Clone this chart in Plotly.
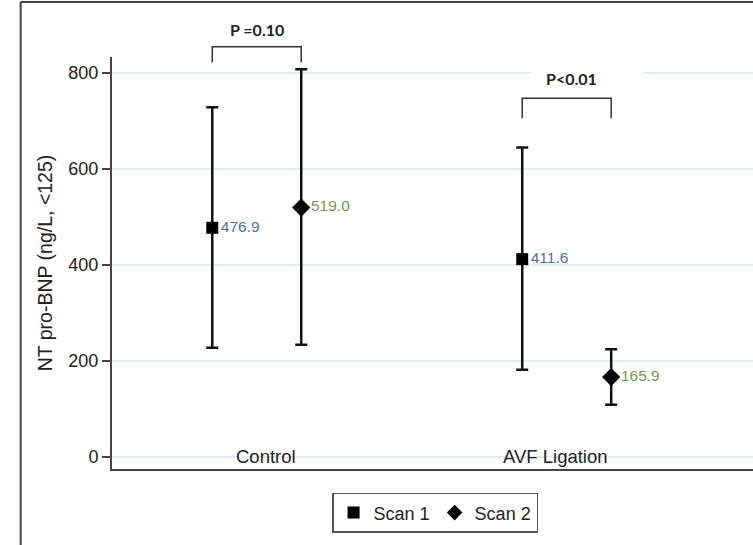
import plotly.graph_objects as go

# ---- data ----
groups = ["Control", "AVF Ligation"]
group_pos = [1.0, 2.0]
scan_names = ["Scan 1", "Scan 2"]
scan1_mean = [476.9, 411.6]
scan1_upper = [728, 644]
scan1_lower = [227, 181]
scan2_mean = [519.0, 165.9]
scan2_upper = [807, 224]
scan2_lower = [233, 108]
p_labels = ["P =0.10", "P<0.01"]
y_ticks = [0, 200, 400, 600, 800]

offset = 0.1435
label_colors = ["#4f71a0", "#7b9350"]
symbols = ["square", "diamond"]
FONT = "Liberation Sans, Arial"

fig = go.Figure()
series = [(scan1_mean, scan1_upper, scan1_lower), (scan2_mean, scan2_upper, scan2_lower)]
for i, (m, up, lo) in enumerate(series):
    xs = [g + (offset if i == 1 else -offset) for g in group_pos]
    fig.add_trace(go.Scatter(
        x=xs, y=m, mode="markers+text", name=scan_names[i],
        text=[f"{v:.1f}" for v in m], textposition="middle right",
        textfont=dict(color=label_colors[i], size=15.5, family=FONT),
        marker=dict(symbol=symbols[i], size=12 if i == 0 else 14, color="black"),
        error_y=dict(type="data", symmetric=False,
                     array=[u - v for u, v in zip(up, m)],
                     arrayminus=[v - l for v, l in zip(m, lo)],
                     color="#111", thickness=2.5, width=6),
        cliponaxis=False,
    ))

# category labels inside plot near y=0
label_x = [1.03, 1.965]
for lx, g in zip(label_x, groups):
    fig.add_annotation(x=lx, y=0, text=g, showarrow=False, xref="x", yref="y",
                       yanchor="middle", font=dict(size=18.5, color="#222", family=FONT))

# P-value brackets
xl0, xr0 = group_pos[0] - offset, group_pos[0] + offset
fig.add_shape(type="path", xref="x", yref="paper",
              path=f"M {xl0} 0.987 L {xl0} 1.025 L {xr0} 1.025 L {xr0} 0.987",
              line=dict(color="#333", width=1.5))
fig.add_annotation(x=group_pos[0], xref="x", y=1.066, yref="paper", yanchor="middle",
                   text=f"<b>{p_labels[0]}</b>",
                   showarrow=False, font=dict(size=16, color="#222", family="Lato, Open Sans"))
xl1, xr1 = group_pos[1] - offset, group_pos[1] + offset
fig.add_shape(type="rect", xref="x", yref="y", x0=group_pos[1] - 0.115, x1=group_pos[1] + 0.25,
              y0=765, y1=825, fillcolor="white", line=dict(width=0))
fig.add_shape(type="path", xref="x", yref="y",
              path=f"M {xl1} 705 L {xl1} 747 L {xr1} 747 L {xr1} 705",
              line=dict(color="#333", width=1.5))
fig.add_annotation(x=group_pos[1] + 0.015, xref="x", y=788, yref="y", yanchor="middle",
                   text=f"<b>{p_labels[1]}</b>",
                   showarrow=False, font=dict(size=16, color="#222", family="Lato, Open Sans"))

# outer frame (partially visible)
fig.add_shape(type="line", xref="paper", yref="paper", x0=-0.1425, x1=1.05, y0=1.1335, y1=1.1335,
              line=dict(color="#444", width=2))
fig.add_shape(type="line", xref="paper", yref="paper", x0=-0.1425, x1=-0.1425, y0=1.1335, y1=-0.3,
              line=dict(color="#444", width=2))

fig.update_layout(
    width=753, height=545,
    margin=dict(l=112, r=0, t=57, b=76, autoexpand=False),
    paper_bgcolor="white", plot_bgcolor="white",
    showlegend=True,
    legend=dict(orientation="h", x=0.504, xanchor="center", y=-0.058, yanchor="top",
                bordercolor="#555", borderwidth=1.5, font=dict(size=18, color="#222", family=FONT),
                itemsizing="constant"),
    xaxis=dict(range=[0.533, 2.601], showgrid=False, zeroline=False, showticklabels=False,
               showline=True, linecolor="#444", linewidth=2, ticks=""),
    yaxis=dict(range=[-25.6, 832.7], tickvals=y_ticks, showgrid=True, gridcolor="#e3ecee", gridwidth=1.5,
               zeroline=False, showline=True, linecolor="#444", linewidth=2,
               ticks="outside", ticklen=8, tickcolor="#444", tickwidth=1.5,
               tickfont=dict(size=18, color="#222", family=FONT),
               title=dict(text="NT pro-BNP (ng/L, <125)", standoff=11,
                          font=dict(size=19.5, color="#222", family=FONT))),
)

fig.write_html("out.html", config={"displayModeBar": False},
               post_script="document.body.style.margin='0';document.body.style.overflow='hidden';")
